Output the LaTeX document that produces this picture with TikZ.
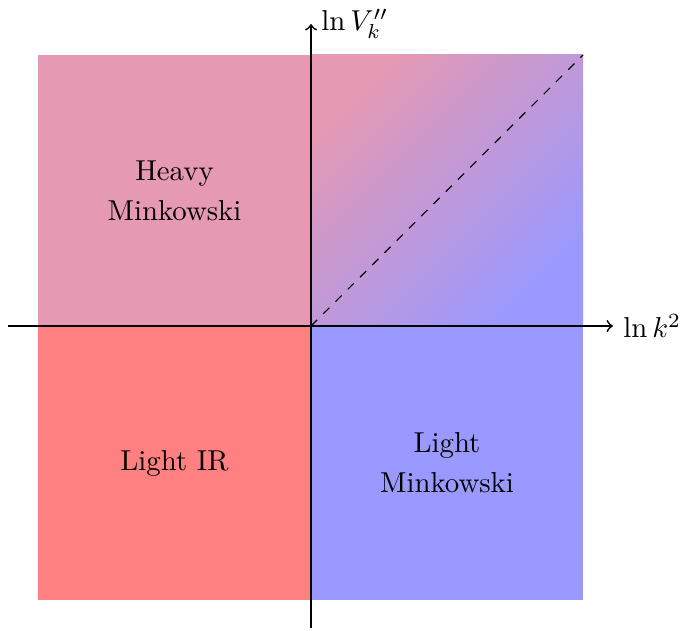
\documentclass[tikz,border=0pt]{standalone}
\usetikzlibrary{arrows}
\begin{document}
\begin{tikzpicture}[x=0.347pt,y=-0.347pt,
  axis/.style={semithick,->},
  lbl/.style={align=center,text=black}]
\useasboundingbox (0,0) rectangle (681,630);
% quadrants
\fill[purple!40] (38,55) rectangle (311,326);
\fill[red!50] (38,326) rectangle (311,600);
\fill[blue!40] (311,326) rectangle (583,600);
\shade[top color=purple!40,bottom color=blue!40,shading angle=45] (311,55) rectangle (583,326);
% diagonal
\coordinate (o) at (311,326);
\coordinate (d) at (583,55);
\draw[dashed] (o) -- (d);
% axes
\coordinate (xl) at (8,326);
\coordinate (xr) at (613,326);
\coordinate (yb) at (311,628);
\coordinate (yt) at (311,24);
\draw[axis] (xl) -- (xr) node[right] (xlab) {$\ln k^2$};
\draw[axis] (yb) -- (yt) node[right] (ylab) {$\ln V_k''$};
% labels
\node[lbl] (heavy) at (174.5,191) {Heavy\\[1.9pt]Minkowski};
\node[lbl] (lir) at (174.5,463) {Light IR};
\node[lbl] (lmink) at (447,463) {Light\\[1.9pt]Minkowski};
\end{tikzpicture}
\end{document}
